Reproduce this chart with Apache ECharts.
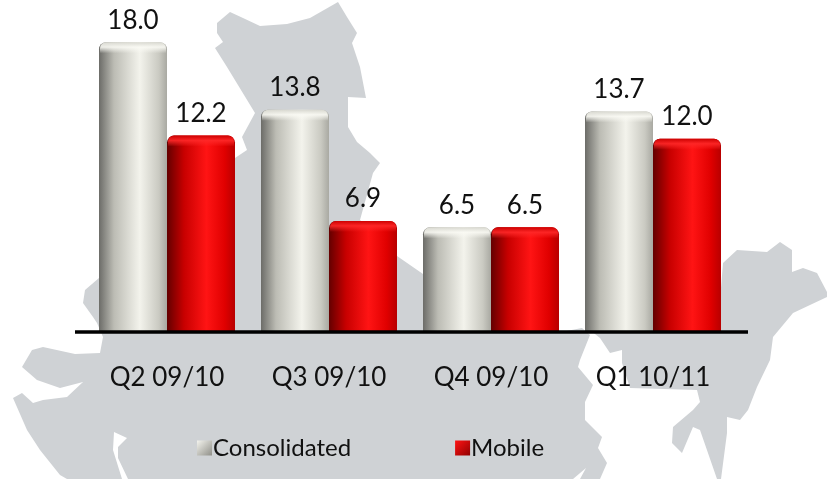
<!DOCTYPE html>
<html>
<head>
<meta charset="utf-8">
<style>
html,body{margin:0;padding:0;background:#fff;}
#chart{width:827px;height:479px;}
</style>
<script src="https://cdn.jsdelivr.net/npm/echarts@6/dist/echarts.min.js"></script>
</head>
<body>
<div id="chart"></div>
<script>
var categories = ['Q2 09/10', 'Q3 09/10', 'Q4 09/10', 'Q1 10/11'];
var consolidated = [18.0, 13.8, 6.5, 13.7];
var mobile = [12.2, 6.9, 6.5, 12.0];

// 背景地图轮廓(装饰)
var mapWest = [[217,23],[230,12],[243,18],[260,26],[287,24],[310,18],[338,2],[347,17],[357,33],[352,43],[360,67],[366,98],[348,97],[348,127],[357,142],[370,153],[380,163],[373,173],[360,220],[397,256],[423,274],[490,310],[556,333],[582,328],[590,335],[580,360],[578,367],[593,385],[585,402],[585,420],[602,437],[598,448],[607,463],[600,479],[580,479],[586,468],[573,479],[128,479],[118,458],[118,447],[127,438],[114,432],[113,450],[122,479],[67,479],[60,475],[40,450],[27,430],[13,398],[22,393],[33,403],[43,400],[67,397],[83,382],[60,388],[37,380],[22,367],[32,350],[43,347],[75,354],[100,353],[103,337],[97,323],[93,317],[83,303],[85,290],[99,278],[235,158],[247,150],[242,137],[255,113],[227,67],[215,48],[223,42],[217,33]];
var mapEast = [[590,330],[720,300],[723,263],[737,250],[767,252],[780,242],[792,250],[792,272],[803,268],[817,273],[827,292],[827,297],[793,313],[773,337],[770,360],[757,387],[748,410],[740,420],[727,417],[727,433],[721,479],[717,479],[700,430],[693,427],[682,453],[672,443],[673,427],[693,410],[700,402],[697,390],[630,388],[622,363],[622,350],[610,353],[600,338]];

var fontName = 'Lato, sans-serif';
var barW = 68;

function hGrad(stops){
	return new echarts.graphic.LinearGradient(0,0,1,0,stops);
}
var greyBody = hGrad([{offset:0,color:'#6c6c68'},{offset:0.22,color:'#bcbcb4'},{offset:0.6,color:'#f3f3ec'},{offset:0.88,color:'#cacac2'},{offset:1,color:'#a9a9a2'}]);
var redBody = hGrad([{offset:0,color:'#640000'},{offset:0.25,color:'#c80000'},{offset:0.58,color:'#ff1414'},{offset:0.85,color:'#e00000'},{offset:1,color:'#b80000'}]);

function makeItem(offset, body, top, shine){
	return function(params, api){
		var v = api.value(1);
		var p = api.coord([api.value(0), v]);
		var base = api.coord([api.value(0), 0]);
		var x = p[0] + offset;
		return {
			type:'group',
			children:[
				{type:'rect',shape:{x:x,y:p[1],width:barW,height:base[1]-p[1],r:[7,7,0,0]},style:{fill:body}},
				{type:'rect',shape:{x:x+1,y:p[1],width:barW-2,height:11,r:[6,6,0,0]},style:{fill:new echarts.graphic.LinearGradient(0,0,0,1,[{offset:0,color:top},{offset:0.45,color:shine},{offset:1,color:shine.replace(/[\d.]+\)$/,'0)')}])}},
				{type:'text',style:{text:v.toFixed(1),x:x+barW/2,y:p[1]-9,align:'center',verticalAlign:'bottom',font:'26px '+fontName,fill:'#111'}}
			]
		};
	};
}

var chart = echarts.init(document.getElementById('chart'));
chart.setOption({
	backgroundColor:'#fff',
	animation:false,
	grid:{left:86,width:648,top:10,height:322},
	xAxis:{
		type:'category',
		data:categories,
		axisLine:{show:false},
		axisTick:{show:false},
		axisLabel:{margin:33,fontSize:26,fontFamily:fontName,color:'#111'}
	},
	yAxis:{type:'value',min:0,max:20,show:false,splitLine:{show:false}},
	legend:{
		left:192,
		top:431,
		itemWidth:15,
		itemHeight:15,
		itemGap:104,
		icon:'rect',
		textStyle:{fontSize:24,fontFamily:fontName,color:'#111',padding:[0,0,0,-4]},
		data:[
			{name:'Consolidated',itemStyle:{color:new echarts.graphic.LinearGradient(0,0,1,1,[{offset:0,color:'#f4f4ee'},{offset:1,color:'#8f8f88'}])}},
			{name:'Mobile',itemStyle:{color:new echarts.graphic.LinearGradient(0,0,1,1,[{offset:0,color:'#ff1414'},{offset:1,color:'#900000'}])}}
		]
	},
	graphic:[
		{type:'polygon',z:-1,shape:{points:mapWest},style:{fill:'#cfd2d5'}},
		{type:'polygon',z:-1,shape:{points:mapEast},style:{fill:'#cfd2d5'}},
		{type:'line',z:100,shape:{x1:75,y1:332,x2:748,y2:332},style:{stroke:'#000',lineWidth:3.5}}
	],
	series:[
		{name:'Consolidated',type:'custom',renderItem:makeItem(-barW,greyBody,'#d8d8d0','rgba(250,250,244,0.9)'),data:consolidated.map(function(v,i){return [i,v];}),encode:{x:0,y:1},itemStyle:{color:'#d8d8d0'}},
		{name:'Mobile',type:'custom',renderItem:makeItem(0,redBody,'#cc0000','rgba(255,40,40,0.9)'),data:mobile.map(function(v,i){return [i,v];}),encode:{x:0,y:1},itemStyle:{color:'#e00000'}}
	]
});
</script>
</body>
</html>
